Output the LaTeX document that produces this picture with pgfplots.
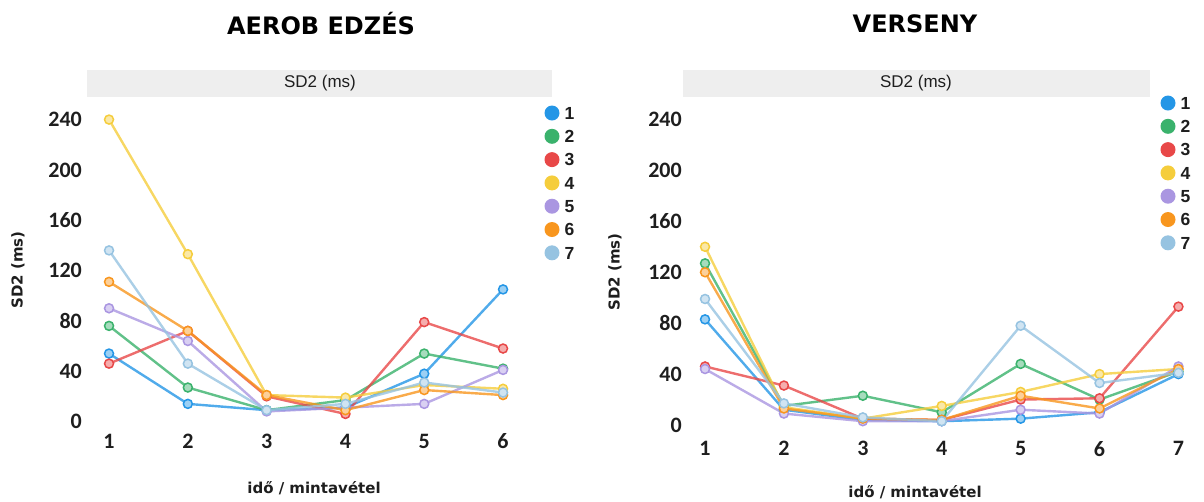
\documentclass[border=0pt]{standalone}
\usepackage{fontspec}
\setmainfont{Liberation Sans}
\newfontfamily\tickfont{Carlito}
\newfontfamily\dejavu{DejaVu Sans}
\usepackage{pgfplots}
\pgfplotsset{compat=1.18}
\usepackage{pgfplotstable}

\definecolor{c1}{RGB}{36,150,230}
\definecolor{c2}{RGB}{58,178,108}
\definecolor{c3}{RGB}{232,72,72}
\definecolor{c4}{RGB}{245,205,60}
\definecolor{c5}{RGB}{170,150,225}
\definecolor{c6}{RGB}{248,150,30}
\definecolor{c7}{RGB}{150,195,225}
\definecolor{stripgray}{RGB}{238,238,238}
\definecolor{txt}{RGB}{30,30,30}

\pgfplotstableread{
x s1 s2 s3 s4 s5 s6 s7
1 54 76 46 240 90 111 136
2 14 27 72 133 64 72 46
3 9 9 20 21 8 21 9
4 11 17 6 19 11 9 14
5 38 54 79 29 14 25 31
6 105 42 58 26 41 21 23
}\aerob

\pgfplotstableread{
x s1 s2 s3 s4 s5 s6 s7
1 83 127 46 140 44 120 99
2 12 15 31 14 9 13 17
3 4 23 5 5 3 5 6
4 3 10 4 15 3 4 3
5 5 48 20 26 12 23 78
6 10 20 21 40 9 13 33
7 40 42 93 44 46 44 41
}\verseny

\pgfplotsset{
  myax/.style={
    scale only axis, clip=false,
    axis line style={draw=none}, tick style={draw=none},
    ytick={0,40,...,240},
    /pgf/number format/assume math mode=true,
    ticklabel style={font=\tickfont\bfseries\fontsize{22}{22}\selectfont, text=txt},
    label style={font=\dejavu\bfseries\fontsize{15}{15}\selectfont, text=txt},
    legend image code/.code={\fill[##1, draw=none] (0pt,0pt) circle (7.5pt);},
    legend style={draw=none, fill=none, anchor=north west, inner sep=0pt, outer sep=0pt,
      row sep=8.3pt, column sep=5pt,
      font=\bfseries\fontsize{17.5}{17.5}\selectfont, text=txt,
      nodes={inner sep=0pt, text height=12.5pt, text depth=0pt}},
    legend cell align=left,
  },
  ser/.style={color=#1, line width=2.4pt, draw opacity=0.8, mark=*, mark size=4.5pt,
    mark options={solid, draw opacity=1, fill=#1!45!white, draw=#1, line width=1.5pt}},
}

\begin{document}
\begin{tikzpicture}
\useasboundingbox (0,0) rectangle (1204pt,501pt);
% strips and titles
\fill[stripgray] (87pt,404pt) rectangle (552pt,431pt);
\fill[stripgray] (683pt,404pt) rectangle (1150pt,431pt);
\node[text=txt] at (320pt,417.5pt) {\fontsize{17}{17}\selectfont SD2 (ms)};
\node[text=txt] at (916pt,417.5pt) {\fontsize{17}{17}\selectfont SD2 (ms)};
\node[text=black] at (321pt,477.5pt) {\dejavu\bfseries\fontsize{24}{24}\selectfont AEROB EDZÉS};
\node[text=black] at (915pt,477.5pt) {\dejavu\bfseries\fontsize{24}{24}\selectfont VERSENY};

\begin{axis}[myax,
  at={(85.4pt,70.7pt)}, anchor=south west,
  width=457.04pt, height=324.56pt,
  xmin=0.7, xmax=6.5, ymin=-7, ymax=251,
  xtick={1,...,6},
  xlabel={idő / mintavétel}, ylabel={SD2 (ms)},
  xlabel style={at={(axis description cs:0.5002,-0.1778)}, anchor=center},
  ylabel style={at={(axis description cs:-0.1475,0.4938)}, anchor=center},
  legend style={at={(axis description cs:1.0045,1.0007)}},
]
\addplot[ser=c1] table[x=x,y=s1] {\aerob}; \addlegendentry{1}
\addplot[ser=c2] table[x=x,y=s2] {\aerob}; \addlegendentry{2}
\addplot[ser=c3] table[x=x,y=s3] {\aerob}; \addlegendentry{3}
\addplot[ser=c4] table[x=x,y=s4] {\aerob}; \addlegendentry{4}
\addplot[ser=c5] table[x=x,y=s5] {\aerob}; \addlegendentry{5}
\addplot[ser=c6] table[x=x,y=s6] {\aerob}; \addlegendentry{6}
\addplot[ser=c7] table[x=x,y=s7] {\aerob}; \addlegendentry{7}
\end{axis}

\begin{axis}[myax,
  at={(685.3pt,63pt)}, anchor=south west,
  width=516.8pt, height=332.5pt,
  xmin=0.75, xmax=7.3, ymin=-10.2, ymax=251,
  xtick={1,...,7},
  xlabel={idő / mintavétel}, ylabel={SD2 (ms)},
  xlabel style={at={(axis description cs:0.4445,-0.1624)}, anchor=center},
  ylabel style={at={(axis description cs:-0.136,0.499)}, anchor=center},
  legend style={at={(axis description cs:0.9195,1.030)}},
]
\addplot[ser=c1] table[x=x,y=s1] {\verseny}; \addlegendentry{1}
\addplot[ser=c2] table[x=x,y=s2] {\verseny}; \addlegendentry{2}
\addplot[ser=c3] table[x=x,y=s3] {\verseny}; \addlegendentry{3}
\addplot[ser=c4] table[x=x,y=s4] {\verseny}; \addlegendentry{4}
\addplot[ser=c5] table[x=x,y=s5] {\verseny}; \addlegendentry{5}
\addplot[ser=c6] table[x=x,y=s6] {\verseny}; \addlegendentry{6}
\addplot[ser=c7] table[x=x,y=s7] {\verseny}; \addlegendentry{7}
\end{axis}
\end{tikzpicture}
\end{document}
